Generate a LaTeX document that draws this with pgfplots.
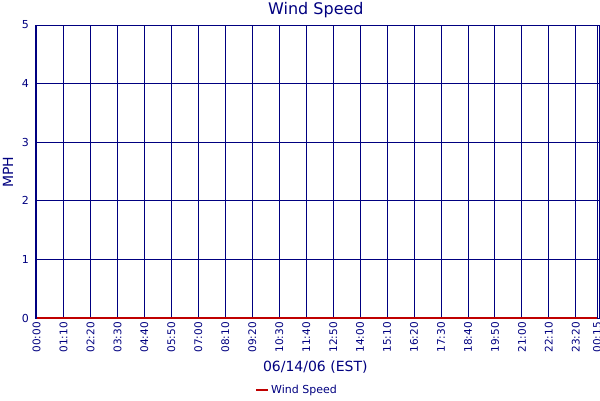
\documentclass[border=0pt]{standalone}
\usepackage{fontspec}
\setmainfont{DejaVu Sans}
\usepackage{pgfplots}
\pgfplotsset{compat=1.18}
\definecolor{navyc}{HTML}{000080}
\definecolor{linered}{HTML}{C00000}
\begin{document}
\begin{tikzpicture}[x=1pt,y=1pt]
\useasboundingbox (0,0) rectangle (600,400);
\begin{axis}[
    at={(35pt,82pt)}, anchor=south west,
    scale only axis,
    width=564pt, height=293pt,
    xmin=-4, xmax=1460,
    ymin=0, ymax=5,
    xtick={0,70,140,210,280,350,420,490,560,630,700,770,840,910,980,1050,1120,1190,1260,1330,1400},
    xticklabels={00:00,01:10,02:20,03:30,04:40,05:50,07:00,08:10,09:20,10:30,11:40,12:50,14:00,15:10,16:20,17:30,18:40,19:50,21:00,22:10,23:20},
    extra x ticks={1455},
    extra x tick labels={00:15},
    extra x tick style={tick label style={anchor=south east}},
    ytick={0,1,2,3,4,5},
    major tick length=0pt,
    grid=major,
    grid style={navyc, line width=1pt},
    axis line style={navyc, line width=1pt},
    /pgf/number format/assume math mode=true,
    x tick label style={rotate=90, anchor=east, font=\fontsize{10.5}{11}\selectfont, text=navyc, inner sep=0pt, xshift=-4pt},
    y tick label style={font=\fontsize{11}{12}\selectfont, text=navyc, inner sep=0pt, xshift=-6pt},
    every axis title shift=0pt,
    title={Wind Speed},
    title style={at={(axis description cs:0.498,1.051)}, anchor=center, font=\fontsize{16}{18}\selectfont, text=navyc},
    xlabel={06/14/06 (EST)},
    xlabel style={at={(axis description cs:0.497,-0.167)}, anchor=center, font=\fontsize{14}{16}\selectfont, text=navyc},
    ylabel={MPH},
    ylabel style={at={(axis description cs:-0.048,0.498)}, anchor=center, font=\fontsize{14}{16}\selectfont, text=navyc},
    legend style={at={(axis description cs:0.465,-0.246)}, anchor=center, draw=none, fill=none,
        font=\fontsize{11}{12}\selectfont, text=navyc, inner sep=0pt},
    legend cell align=left,
    legend image code/.code={\draw[#1] (0pt,0pt) -- (12pt,0pt);},
]
\addplot[color=linered, line width=1.5pt] coordinates {
(0,0) (70,0) (140,0) (210,0) (280,0) (350,0) (420,0) (490,0) (560,0) (630,0) (700,0)
(770,0) (840,0) (910,0) (980,0) (1050,0) (1120,0) (1190,0) (1260,0) (1330,0) (1400,0) (1455,0)
};
\addlegendentry{Wind Speed}
\end{axis}
\end{tikzpicture}
\end{document}
